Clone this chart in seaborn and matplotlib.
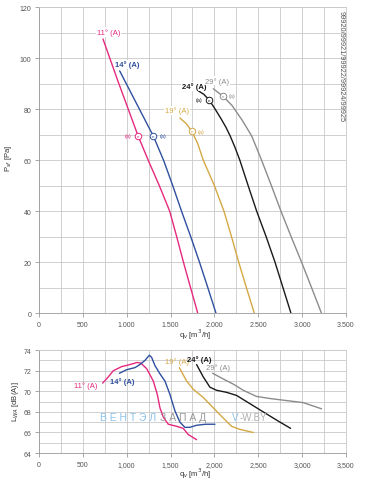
import pandas as pd
import matplotlib
matplotlib.use("Agg")
import matplotlib.pyplot as plt
import seaborn as sns
from matplotlib.ticker import MultipleLocator, FuncFormatter

sns.set_theme(style="white")
plt.rcParams['font.family'] = ['Liberation Sans', 'DejaVu Sans']

series = ["11° (A)", "14° (A)", "19° (A)", "24° (A)", "29° (A)"]
colors = ["#e5297f", "#2f4f9f", "#d4a844", "#1a1a1a", "#8c8c8c"]

# pressure curves (q in m3/h, P in Pa)
q_p11 = [730, 900, 1130, 1245, 1372, 1490, 1570, 1647, 1728, 1810]
p_11 = [107.5, 91, 69.5, 60, 50, 40, 30, 20, 10, 0]
q_p14 = [920, 1100, 1303, 1420, 1525, 1625, 1730, 1830, 1925, 2018]
p_14 = [95, 83, 69.5, 60, 50, 40, 30, 20, 10, 0]
q_p19 = [1607, 1680, 1741, 1810, 1873, 2000, 2109, 2195, 2277, 2365, 2455]
p_19 = [76.5, 74.3, 71.4, 66.5, 60, 50, 40, 30, 20, 10, 0]
q_p24 = [1816, 1880, 1938, 2000, 2080, 2130, 2180, 2235, 2290, 2385, 2482, 2590, 2691, 2782, 2873]
p_24 = [87.2, 85.8, 83.7, 80.5, 76, 73, 69.5, 65, 60, 50, 40, 30, 20, 10, 0]
q_p29 = [1988, 2093, 2200, 2320, 2425, 2538, 2650, 2759, 2875, 2994, 3108, 3221]
p_29 = [88, 85.2, 81.5, 75.5, 69.5, 60, 50, 40, 30, 20, 10, 0]

# sound power curves (q in m3/h, L in dB(A))
q_l11 = [726, 790, 847, 943, 1037, 1080, 1113, 1160, 1228, 1303, 1349, 1379, 1417, 1474, 1569, 1645, 1702, 1797]
l_11 = [70.8, 71.4, 72.0, 72.4, 72.6, 72.7, 72.8, 72.75, 72.2, 71.0, 69.7, 68.4, 67.5, 66.8, 66.6, 66.4, 65.8, 65.3]
q_l14 = [916, 1000, 1094, 1151, 1208, 1258, 1284, 1322, 1379, 1436, 1493, 1550, 1607, 1664, 1721, 1797, 1900, 2006]
l_14 = [71.75, 72.1, 72.3, 72.6, 73.0, 73.5, 73.3, 72.5, 71.7, 71.0, 69.7, 68.1, 67.0, 66.5, 66.5, 66.7, 66.8, 66.8]
q_l19 = [1600, 1683, 1759, 1873, 1987, 2101, 2196, 2291, 2443]
l_19 = [72.3, 71.0, 70.2, 69.4, 68.4, 67.4, 66.6, 66.3, 66.0]
q_l24 = [1797, 1873, 1949, 2025, 2139, 2253, 2405, 2557, 2710, 2869]
l_24 = [72.6, 71.4, 70.4, 70.1, 69.9, 69.6, 68.8, 68.0, 67.2, 66.4]
q_l29 = [1979, 2101, 2215, 2329, 2481, 2633, 2823, 3013, 3222]
l_29 = [71.75, 71.2, 70.7, 70.1, 69.5, 69.3, 69.1, 68.9, 68.3]

# curve labels and operating point markers
lab_top_q = [792, 1003, 1573, 1767, 2029]
lab_top_p = [110.3, 97.6, 79.6, 88.9, 91.1]
lab_bot_q = [535, 952, 1570, 1824, 2041]
lab_bot_l = [70.55, 71.0, 72.9, 73.1, 72.3]
mark_q = [1132, 1303, 1741, 1938, 2093]
mark_p = [69.5, 69.5, 71.4, 83.7, 85.2]
mark_txt_q = [1018, 1417, 1847, 1824, 2200]
bold = [False, True, False, True, False]

top_df = pd.concat([pd.DataFrame({"q": q, "v": v, "s": s}) for q, v, s in
                    zip([q_p11, q_p14, q_p19, q_p24, q_p29], [p_11, p_14, p_19, p_24, p_29], series)])
bot_df = pd.concat([pd.DataFrame({"q": q, "v": v, "s": s}) for q, v, s in
                    zip([q_l11, q_l14, q_l19, q_l24, q_l29], [l_11, l_14, l_19, l_24, l_29], series)])
pal = dict(zip(series, colors))

fig = plt.figure(figsize=(3.68, 4.81), dpi=100)
ax1 = fig.add_axes([0.106, 0.347, 0.834, 0.636])
ax2 = fig.add_axes([0.106, 0.056, 0.834, 0.214])

grid_c = "#c9c9c9"
tick_c = "#555555"

for ax, df in [(ax1, top_df), (ax2, bot_df)]:
    sns.lineplot(data=df, x="q", y="v", hue="s", palette=pal, ax=ax,
                 legend=False, linewidth=1.0, estimator=None, sort=True)
    ax.set_xlim(0, 3500)
    ax.xaxis.set_major_locator(MultipleLocator(500))
    ax.xaxis.set_minor_locator(MultipleLocator(250))
    ax.grid(True, which="both", color=grid_c, linewidth=0.6)
    ax.set_axisbelow(True)
    for sp in ax.spines.values():
        sp.set_color(grid_c)
        sp.set_linewidth(0.6)
    ax.spines["left"].set_color("#999999")
    ax.spines["bottom"].set_color("#999999")
    ax.tick_params(which="major", length=3, width=0.6, color="#999999",
                   labelsize=5, labelcolor=tick_c, pad=2.5, bottom=True, left=True)
    ax.tick_params(which="minor", length=0)

ax1.set_ylim(0, 120)
ax1.yaxis.set_major_locator(MultipleLocator(20))
ax1.yaxis.set_minor_locator(MultipleLocator(10))
ax1.xaxis.set_major_formatter(FuncFormatter(lambda v, p: f"{int(v):,}".replace(",", ".")))
ax2.set_ylim(64, 74)
ax2.yaxis.set_major_locator(MultipleLocator(2))
ax2.yaxis.set_minor_locator(MultipleLocator(1))
ax2.xaxis.set_major_formatter(FuncFormatter(lambda v, p: f"{int(v):,}"))

ax1.set_ylabel("P$_{sf}$ [Pa]", fontsize=5.5, color="#333333", va="center")
ax1.yaxis.set_label_coords(-0.1, 0.51)
ax1.set_xlabel("q$_v$ [m$^3$/h]", fontsize=5.5, color="#333333", va="center")
ax1.xaxis.set_label_coords(0.508, -0.069)
ax2.set_ylabel("L$_{WA}$ [dB(A)]", fontsize=5.5, color="#333333", va="center")
ax2.yaxis.set_label_coords(-0.077, 0.51)
ax2.set_xlabel("q$_v$ [m$^3$/h]", fontsize=5.5, color="#333333", va="center")
ax2.xaxis.set_label_coords(0.508, -0.195)

for i, s in enumerate(series):
    w = "bold" if bold[i] else "normal"
    ax1.text(lab_top_q[i], lab_top_p[i], s, color=colors[i], fontsize=5.5, fontweight=w,
             ha="center", va="center",
             bbox=dict(boxstyle="square,pad=0.1", fc="white", ec="none"))
    ax2.text(lab_bot_q[i], lab_bot_l[i], s, color=colors[i], fontsize=5.5, fontweight=w,
             ha="center", va="center")
    ax1.scatter(mark_q[i], mark_p[i], s=22, facecolor="white", edgecolor=colors[i],
                linewidth=0.7, zorder=5)
    ax1.text(mark_q[i], mark_p[i], "n", color=colors[i], fontsize=3.2,
             ha="center", va="center", zorder=6)
    ax1.text(mark_txt_q[i], mark_p[i], "(a)", color=colors[i], fontsize=4,
             ha="center", va="center", zorder=6)

ax1.text(3443, 97.3, "99920/99921/99922/99924/99925", rotation=-90, fontsize=5.3,
         color="#555555", ha="center", va="center")

# watermark
ax2.text(695, 67.5, "В Е Н Т Э Л", color="#8cc2ea", fontsize=7.5, ha="left", va="center")
ax2.text(1380, 67.5, "З А П А Д", color="#9a9a9a", fontsize=7.5, ha="left", va="center")
ax2.text(2200, 67.5, "V", color="#8cc2ea", fontsize=7, ha="left", va="center")
ax2.text(2290, 67.5, "-W.BY", color="#b0b0b0", fontsize=7, ha="left", va="center")

fig.savefig("out.png", dpi=100)
